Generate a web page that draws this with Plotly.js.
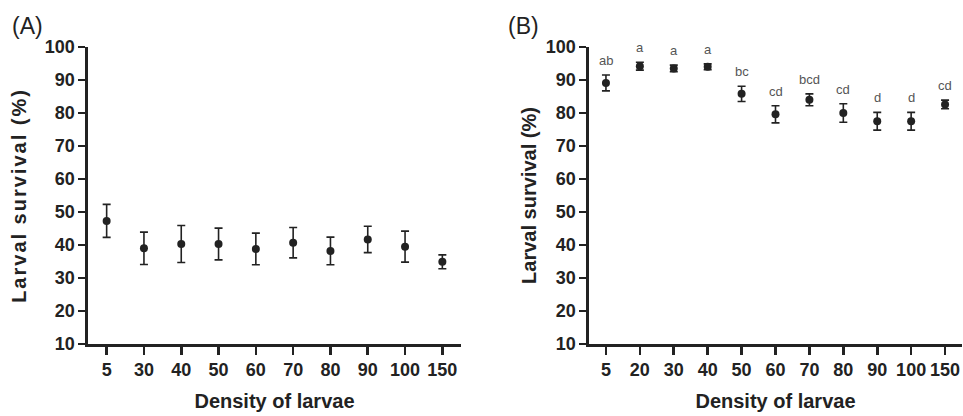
<!DOCTYPE html>
<html>
<head>
<meta charset="utf-8">
<script src="https://cdn.plot.ly/plotly-3.0.1.min.js"></script>
<style>
  html, body { margin: 0; padding: 0; background: #fff; }
  #chart { width: 963px; height: 416px; }
  .ytitle { letter-spacing: 2px; }
</style>
</head>
<body>
<div id="chart"></div>
<script>
// ---- Data ----
const densityA = ['5', '30', '40', '50', '60', '70', '80', '90', '100', '150'];
const survivalA = [47.3, 39.0, 40.3, 40.3, 38.8, 40.7, 38.2, 41.7, 39.5, 34.9];
const errorA = [5.0, 4.9, 5.6, 4.8, 4.8, 4.6, 4.2, 4.0, 4.7, 2.1];

const densityB = ['5', '20', '30', '40', '50', '60', '70', '80', '90', '100', '150'];
const survivalB = [89.1, 94.2, 93.5, 94.0, 85.8, 79.6, 84.0, 80.0, 77.5, 77.5, 82.6];
const errorB = [2.4, 1.2, 1.0, 0.9, 2.3, 2.6, 1.8, 2.8, 2.7, 2.7, 1.3];
const lettersB = ['ab', 'a', 'a', 'a', 'bc', 'cd', 'bcd', 'cd', 'd', 'd', 'cd'];

const yTicks = [10, 20, 30, 40, 50, 60, 70, 80, 90, 100];

// ---- Styles ----
const ink = '#222222';
const sans = 'Liberation Sans, Arial, sans-serif';

function pointTrace(x, y, e, xa, ya) {
  return {
    type: 'scatter', mode: 'markers', x: x, y: y,
    xaxis: xa, yaxis: ya,
    marker: { color: ink, size: 8, symbol: 'circle' },
    error_y: { type: 'data', array: e, visible: true, color: ink, thickness: 1.6, width: 4 },
    showlegend: false, hoverinfo: 'x+y'
  };
}

const traces = [
  pointTrace(densityA, survivalA, errorA, 'x', 'y'),
  pointTrace(densityB, survivalB, errorB, 'x2', 'y2')
];

function xAxis(domain, anchor, n) {
  return {
    domain: domain, anchor: anchor, type: 'category',
    range: [-0.5, n - 0.5],
    showline: true, linecolor: ink, linewidth: 2.6,
    ticks: 'outside', ticklen: 8, tickwidth: 2.6, tickcolor: ink,
    tickangle: 0,
    showgrid: false, zeroline: false, fixedrange: true,
    tickfont: { family: sans, size: 18, color: ink, weight: 'bold' },
    title: { text: 'Density of larvae', standoff: 15,
             font: { family: sans, size: 20, color: ink, weight: 'bold' } }
  };
}
function yAxis(domain, anchor, standoff) {
  return {
    domain: domain, anchor: anchor,
    range: [10, 100], tickvals: yTicks,
    showline: true, linecolor: ink, linewidth: 2.6,
    ticks: 'outside', ticklen: 7, tickwidth: 2.4, tickcolor: ink,
    showgrid: false, zeroline: false, fixedrange: true,
    tickfont: { family: sans, size: 18, color: ink, weight: 'bold' },
    title: { text: 'Larval survival (%)', standoff: standoff,
             font: { family: sans, size: 20, color: ink, weight: 'bold' } }
  };
}

const yDom = [0.1731, 0.887];
const annotations = [
  { xref: 'paper', yref: 'paper', x: 10 / 963, y: 1 - 11 / 416, xanchor: 'left', yanchor: 'top',
    text: '(A)', showarrow: false, font: { family: sans, size: 23, color: ink } },
  { xref: 'paper', yref: 'paper', x: 506 / 963, y: 1 - 11 / 416, xanchor: 'left', yanchor: 'top',
    text: '(B)', showarrow: false, font: { family: sans, size: 23, color: ink } }
];
lettersB.forEach(function (t, i) {
  annotations.push({
    xref: 'x2', yref: 'y2', x: i, y: survivalB[i] + errorB[i],
    xanchor: 'center', yanchor: 'bottom', yshift: 5,
    text: t, showarrow: false,
    font: { family: sans, size: 13, color: '#555555' }
  });
});

const layout = {
  width: 963, height: 416,
  margin: { l: 0, r: 0, t: 0, b: 0 },
  paper_bgcolor: '#ffffff', plot_bgcolor: '#ffffff',
  xaxis: xAxis([88 / 963, 461 / 963], 'y', densityA.length),
  yaxis: yAxis(yDom, 'x', 13),
  xaxis2: xAxis([589 / 963, 962 / 963], 'y2', densityB.length),
  yaxis2: yAxis(yDom, 'x2', 4),
  annotations: annotations,
  showlegend: false
};

Plotly.newPlot('chart', traces, layout, { displayModeBar: false, staticPlot: true });
</script>
</body>
</html>
